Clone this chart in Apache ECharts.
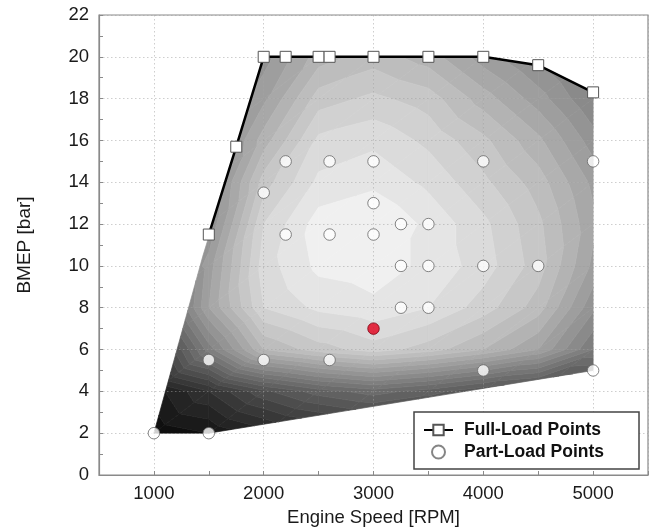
<!DOCTYPE html>
<html>
<head>
<meta charset="utf-8">
<script src="https://cdn.jsdelivr.net/npm/echarts@6/dist/echarts.min.js"></script>
<style>
  html, body { margin: 0; padding: 0; background: #fff; }
  #chart { width: 655px; height: 532px; }
</style>
</head>
<body>
<div id="chart"></div>
<script>
// Engine operating map: full-load curve, part-load test points and a shaded efficiency field.

// Full-load curve
const fullLoadSpeed = [1500, 1750, 2000, 2200, 2500, 2600, 3000, 3500, 4000, 4500, 5000];
const fullLoadBmep  = [11.5, 15.7, 20, 20, 20, 20, 20, 20, 20, 19.6, 18.3];

// Part-load test points
const partLoadSpeed = [1000, 1500, 1500, 2000, 2600, 2000, 2200, 2600, 3000, 4000, 5000,
                       2200, 2600, 3000, 3000, 3250, 3500, 3250, 3500, 4000, 4500,
                       3250, 3500, 4000, 5000];
const partLoadBmep  = [2, 2, 5.5, 5.5, 5.5, 13.5, 15, 15, 15, 15, 15,
                       11.5, 11.5, 11.5, 13, 12, 12, 10, 10, 10, 10,
                       8, 8, 5, 5];

// Highlighted operating point
const refPointSpeed = [3000];
const refPointBmep  = [7];

// Lower limit of the operating range
const minLoadSpeed = [1000, 1500, 5000];
const minLoadBmep  = [2, 2, 5];

// Relative efficiency field (0 = lowest, 100 = highest) on a speed x BMEP grid
const fieldSpeed = [1000, 1500, 2000, 2500, 3000, 3500, 4000, 4500, 5000];
const fieldBmep  = [2, 4, 6, 8, 10, 12, 14, 16, 18, 20];
const effBmep02 = [ 5,  8, 14, 18, 20, 20, 20, 20, 20];
const effBmep04 = [10, 20, 31, 38, 42, 38, 32, 28, 26];
const effBmep06 = [22, 50, 72, 78, 82, 78, 72, 64, 48];
const effBmep08 = [35, 64, 84, 89, 91, 88, 82, 74, 57];
const effBmep10 = [45, 62, 86, 93, 94, 91, 86, 78, 63];
const effBmep12 = [48, 56, 84, 94, 96, 91, 85, 77, 65];
const effBmep14 = [48, 54, 78, 89, 91, 87, 81, 74, 63];
const effBmep16 = [48, 53, 70, 85, 87, 83, 77, 69, 58];
const effBmep18 = [48, 52, 63, 78, 81, 78, 70, 62, 52];
const effBmep20 = [48, 52, 58, 70, 74, 70, 62, 55, 47];
const effRows = [effBmep02, effBmep04, effBmep06, effBmep08, effBmep10,
                 effBmep12, effBmep14, effBmep16, effBmep18, effBmep20];

// Axis ticks
const speedTickLabels = [1000, 2000, 3000, 4000, 5000];
const bmepTickLabels  = [0, 2, 4, 6, 8, 10, 12, 14, 16, 18, 20, 22];

// Contour levels
const levelStep = 4;
const levels = [];
for (let v = 0; v <= 100; v += levelStep) levels.push(v);

// Operating-range outline, counter-clockwise: lower limit, then full-load curve backwards
const hull = [];
for (let k = 0; k < minLoadSpeed.length; k++) hull.push([minLoadSpeed[k], minLoadBmep[k]]);
for (let k = fullLoadSpeed.length - 1; k >= 0; k--) hull.push([fullLoadSpeed[k], fullLoadBmep[k]]);

function clipBy(poly, s) {
  const out = [];
  const n = poly.length;
  for (let k = 0; k < n; k++) {
    const a = poly[k], b = poly[(k + 1) % n];
    const sa = s(a), sb = s(b);
    if (sa >= 0) out.push(a);
    if ((sa >= 0) !== (sb >= 0)) {
      const t = sa / (sa - sb);
      out.push({ x: a.x + t * (b.x - a.x), y: a.y + t * (b.y - a.y), f: a.f + t * (b.f - a.f) });
    }
  }
  return out;
}

function clipToHull(poly) {
  let out = poly;
  for (let k = 0; k < hull.length && out.length >= 3; k++) {
    const p = hull[k], q = hull[(k + 1) % hull.length];
    const ex = q[0] - p[0], ey = q[1] - p[1];
    if (ex === 0 && ey === 0) continue;
    const len = Math.hypot(ex / 1000, ey);
    out = clipBy(out, (pt) => ((ex / 1000) * (pt.y - p[1]) - ey * ((pt.x - p[0]) / 1000)) / len);
  }
  return out;
}

function grayOf(v) {
  const g = Math.max(0, Math.min(255, Math.round(v * 2.55)));
  return 'rgb(' + g + ',' + g + ',' + g + ')';
}

// Grid cells of the efficiency field
const cells = [];
for (let j = 0; j < fieldBmep.length - 1; j++) {
  for (let i = 0; i < fieldSpeed.length - 1; i++) {
    cells.push([(fieldSpeed[i] + fieldSpeed[i + 1]) / 2, (fieldBmep[j] + fieldBmep[j + 1]) / 2, i, j]);
  }
}

function renderCell(params, api) {
  const i = api.value(2), j = api.value(3);
  const node = (ii, jj) => ({ x: fieldSpeed[ii], y: fieldBmep[jj], f: effRows[jj][ii] });
  const p00 = node(i, j), p10 = node(i + 1, j), p01 = node(i, j + 1), p11 = node(i + 1, j + 1);
  const tris = [[p00, p10, p11], [p00, p11, p01]];
  const children = [];
  tris.forEach((tri) => {
    const fmin = Math.min(tri[0].f, tri[1].f, tri[2].f);
    const fmax = Math.max(tri[0].f, tri[1].f, tri[2].f);
    for (let k = 0; k < levels.length - 1; k++) {
      const lo = levels[k], hi = levels[k + 1];
      if (hi < fmin || lo > fmax) continue;
      let poly = clipBy(tri, (p) => p.f - lo);
      if (poly.length < 3) continue;
      poly = clipBy(poly, (p) => hi - p.f);
      if (poly.length < 3) continue;
      poly = clipToHull(poly);
      if (poly.length < 3) continue;
      const color = grayOf((lo + hi) / 2);
      children.push({
        type: 'polygon',
        shape: { points: poly.map((p) => api.coord([p.x, p.y])) },
        style: { fill: color, stroke: color, lineWidth: 0.7 }
      });
    }
  });
  return { type: 'group', children: children };
}

const fontFamily = "'Liberation Sans', Arial, Helvetica, sans-serif";
const gridDots = { color: 'rgba(157,157,157,0.5)', width: 1, type: [1.5, 2.5] };
const axisGray = '#8a8a8a';

const chart = echarts.init(document.getElementById('chart'), null, { renderer: 'canvas' });

chart.setOption({
  animation: false,
  backgroundColor: '#fff',
  textStyle: { fontFamily: fontFamily },
  grid: {
    left: 99, right: 7, top: 15, bottom: 56,
    show: true, borderColor: axisGray, borderWidth: 1.2, backgroundColor: 'transparent'
  },
  legend: {
    left: 414, top: 412,
    orient: 'vertical',
    data: ['Full-Load Points', 'Part-Load Points'],
    itemWidth: 29, itemHeight: 13, itemGap: 4,
    padding: [9, 35, 8, 9],
    backgroundColor: '#fff',
    borderColor: '#444', borderWidth: 1.5, borderRadius: 0,
    textStyle: { fontSize: 17.5, fontWeight: 'bold', color: '#111', fontFamily: fontFamily, padding: [0, 0, 0, 6] },
    selectedMode: false,
    z: 10
  },
  xAxis: [
    {
      type: 'value', min: 500, max: 5500, interval: 500, z: 2,
      name: 'Engine Speed [RPM]', nameLocation: 'middle', nameGap: 33,
      nameTextStyle: { fontSize: 18.5, color: '#1a1a1a', fontFamily: fontFamily },
      axisLine: { show: true, onZero: false, lineStyle: { color: axisGray, width: 1.2 } },
      axisTick: { show: true, inside: true, length: 4, lineStyle: { color: axisGray } },
      axisLabel: {
        margin: 9, fontSize: 18.5, color: '#1a1a1a', fontFamily: fontFamily,
        formatter: (v) => (speedTickLabels.indexOf(v) >= 0 ? String(v) : '')
      },
      splitLine: { show: false }
    },
    {
      type: 'value', min: 500, max: 5500, z: 2, position: 'bottom',
      axisLine: { show: false }, axisTick: { show: false }, axisLabel: { show: false },
      splitLine: { show: true, lineStyle: gridDots }
    }
  ],
  yAxis: {
    type: 'value', min: 0, max: 22, interval: 2, z: 2,
    name: 'BMEP [bar]', nameLocation: 'middle', nameGap: 65, nameRotate: 90,
    nameTextStyle: { fontSize: 19, color: '#1a1a1a', fontFamily: fontFamily },
    axisLine: { show: true, onZero: false, lineStyle: { color: axisGray, width: 1.2 } },
    axisTick: { show: true, inside: true, length: 4, lineStyle: { color: axisGray } },
    minorTick: { show: true, splitNumber: 2, length: 4, lineStyle: { color: axisGray } },
    axisLabel: {
      margin: 10, fontSize: 18.5, color: '#1a1a1a', fontFamily: fontFamily,
      formatter: (v) => (bmepTickLabels.indexOf(v) >= 0 ? String(v) : '')
    },
    splitLine: { show: true, lineStyle: gridDots }
  },
  series: [
    {
      type: 'custom',
      name: 'efficiency',
      coordinateSystem: 'cartesian2d',
      xAxisIndex: 0, yAxisIndex: 0,
      data: cells,
      encode: { x: 0, y: 1 },
      renderItem: renderCell,
      silent: true,
      z: 1
    },
    {
      type: 'line',
      name: 'Full-Load Points',
      data: fullLoadSpeed.map((s, k) => [s, fullLoadBmep[k]]),
      symbol: 'rect', symbolSize: 11,
      lineStyle: { color: '#000', width: 2.5 },
      itemStyle: { color: '#fff', borderColor: '#555', borderWidth: 1 },
      z: 3
    },
    {
      type: 'scatter',
      name: 'Part-Load Points',
      data: partLoadSpeed.map((s, k) => [s, partLoadBmep[k]]),
      symbol: 'circle', symbolSize: 11.5,
      itemStyle: { color: '#fff', borderColor: '#666', borderWidth: 1 },
      z: 4
    },
    {
      type: 'scatter',
      name: 'reference point',
      data: refPointSpeed.map((s, k) => [s, refPointBmep[k]]),
      symbol: 'circle', symbolSize: 11.5,
      itemStyle: { color: '#e3001b', borderColor: '#7a0010', borderWidth: 1 },
      z: 5
    }
  ]
});
</script>
</body>
</html>
